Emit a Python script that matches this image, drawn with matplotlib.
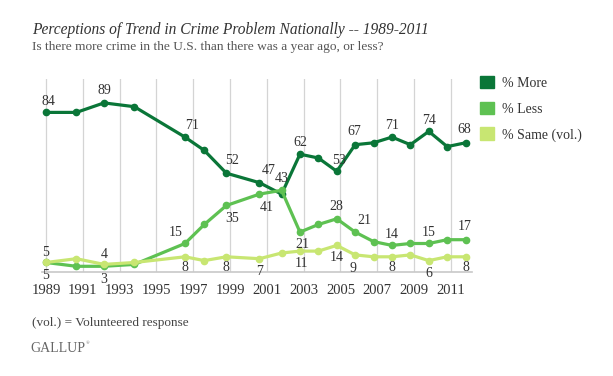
import matplotlib.pyplot as plt

# Poll dates (decimal years) and results
poll_dates = [1989.0, 1990.65, 1992.15, 1993.8, 1996.55, 1997.6, 1998.8, 2000.6,
              2001.8, 2002.8, 2003.8, 2004.8, 2005.8, 2006.8, 2007.8, 2008.8,
              2009.8, 2010.8, 2011.8]
more = [84, 84, 89, 87, 71, 64, 52, 47, 41, 62, 60, 53, 67, 68, 71, 67, 74, 66, 68]
less = [5, 3, 3, 4, 15, 25, 35, 41, 43, 21, 25, 28, 21, 16, 14, 15, 15, 17, 17]
same = [5, 7, 4, 5, 8, 6, 8, 7, 10, 11, 11, 14, 9, 8, 8, 9, 6, 8, 8]
year_ticks = list(range(1989, 2012, 2))

# label placement: point index -> offset in pixels
more_labels = {0: (2, 11), 2: (0, 12), 4: (7, 12), 6: (6, 13), 7: (9, 12), 9: (0, 12),
               11: (2, 11), 12: (-1, 13), 14: (0, 12), 16: (0, 11), 18: (-1, 13)}
less_labels = {0: (0, -13), 2: (0, -13), 4: (-9, 11), 6: (6, -13), 7: (7, -13), 8: (0, 12),
               9: (2, -12), 11: (0, 12), 12: (9, 12), 14: (0, 11), 16: (0, 11), 18: (-1, 13)}
same_labels = {0: (0, 10), 2: (0, 9.5), 4: (0, -11), 6: (0, -11), 7: (0, -12.5), 9: (2, -12),
               11: (0, -12.5), 12: (-2, -13.5), 14: (0, -11), 16: (0, -12.5), 18: (0, -11)}

c_more = "#0a7638"
c_less = "#5ec152"
c_same = "#c8e672"
txt = "#333333"

plt.rcParams['font.family'] = ['Liberation Serif', 'DejaVu Serif']

fig = plt.figure(figsize=(6.13, 3.76), dpi=100)
ax = fig.add_axes([0.0685, 0.2766, 0.7015, 0.5134])

for yr in year_ticks:
    ax.axvline(yr, color="#d4d4d4", lw=0.9, zorder=0)

series = [(more, c_more, "% More", more_labels),
          (less, c_less, "% Less", less_labels),
          (same, c_same, "% Same (vol.)", same_labels)]
for i, (vals, col, name, labs) in enumerate(series):
    ax.plot(poll_dates, vals, color=col, lw=2.3, marker="o", markersize=4.5,
            label=name, zorder=3 + i, solid_joinstyle="round")
    for idx, (dx, dy) in labs.items():
        ax.annotate(str(vals[idx]), (poll_dates[idx], vals[idx]),
                    xytext=(dx, dy), textcoords="offset pixels",
                    ha="center", va="center", fontsize=10, color=txt, zorder=10)

ax.set_xlim(1988.78, 2012.15)
ax.set_ylim(0, 101.6)
ax.set_xticks(year_ticks)
ax.set_xticklabels([str(y) for y in year_ticks], fontsize=10.5, color=txt)
ax.set_yticks([])
ax.tick_params(axis="x", length=0, pad=9)
for s in ["top", "left", "right"]:
    ax.spines[s].set_visible(False)
ax.spines["bottom"].set_color("#c8c8c8")
ax.spines["bottom"].set_linewidth(1.2)

# legend as squares
leg = ax.legend(handles=[plt.Rectangle((0, 0), 1, 1, color=c) for c in (c_more, c_less, c_same)],
                labels=["% More", "% Less", "% Same (vol.)"],
                loc="upper left", bbox_to_anchor=(1.005, 1.045), frameon=False,
                fontsize=10, handlelength=1.0, handleheight=1.0, handletextpad=0.6,
                labelspacing=0.85, borderaxespad=0)
for t in leg.get_texts():
    t.set_color(txt)

fig.text(32 / 613, 1 - 30 / 376, "Perceptions of Trend in Crime Problem Nationally -- 1989-2011",
         fontsize=11.2, style="italic", color=txt, va="center")
fig.text(32 / 613, 1 - 47 / 376, "Is there more crime in the U.S. than there was a year ago, or less?",
         fontsize=9.6, color="#555555", va="center")
fig.text(32 / 613, 1 - 323 / 376, "(vol.) = Volunteered response",
         fontsize=9.5, color="#444444", va="center")
fig.text(30 / 613, 1 - 348 / 376, "GALLUP", fontsize=10, color="#666666", va="center")
fig.text(86 / 613, 1 - 343 / 376, "\u00ae", fontsize=3.5, color="#666666", va="center")

fig.savefig("out.png", dpi=100)
